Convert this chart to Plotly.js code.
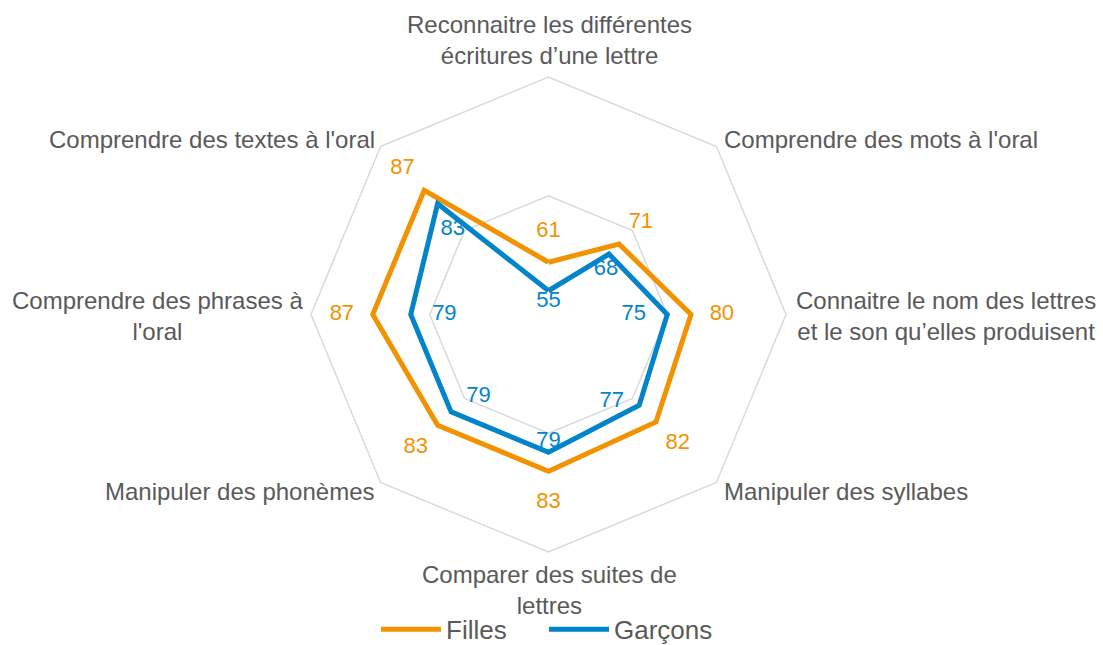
<!DOCTYPE html>
<html>
<head>
<meta charset="utf-8">
<script src="https://cdn.plot.ly/plotly-3.0.1.min.js"></script>
<style>
  html, body { margin: 0; padding: 0; background: #fff; }
  #chart { width: 1103px; height: 645px; }
</style>
</head>
<body>
<div id="chart"></div>
<script>
// categories, clockwise from the top
const categories = [
  'Reconnaitre les différentes écritures d’une lettre',
  'Comprendre des mots à l\'oral',
  'Connaitre le nom des lettres et le son qu’elles produisent',
  'Manipuler des syllabes',
  'Comparer des suites de lettres',
  'Manipuler des phonèmes',
  'Comprendre des phrases à l\'oral',
  'Comprendre des textes à l\'oral'
];
// same labels, broken the way the picture shows them
const tickLabels = [
  'Reconnaitre les différentes<br>écritures d’une lettre',
  'Comprendre des mots à l\'oral',
  'Connaitre le nom des lettres<br>et le son qu’elles produisent',
  'Manipuler des syllabes',
  'Comparer des suites de<br>lettres',
  'Manipuler des phonèmes',
  'Comprendre des phrases à<br>l\'oral',
  'Comprendre des textes à l\'oral'
];
const filles = [61, 71, 80, 82, 83, 83, 87, 87];
const garcons = [55, 68, 75, 77, 79, 79, 79, 83];

const ORANGE = '#F39200';
const BLUE = '#0284CA';
const GREY_TXT = '#595959';
const W = 1103, H = 645;

// close the loop
const loop = arr => arr.concat(arr[0]);

const traces = [
  {
    type: 'scatterpolar', mode: 'lines', name: 'Filles',
    r: loop(filles), theta: loop(categories),
    line: { color: ORANGE, width: 5 }
  },
  {
    type: 'scatterpolar', mode: 'lines', name: 'Garçons',
    r: loop(garcons), theta: loop(categories),
    line: { color: BLUE, width: 5 }
  },
  // data labels: orange outside the line, blue inside
  {
    type: 'scatterpolar', mode: 'text', showlegend: false, hoverinfo: 'skip',
    r: filles.map(v => v + 6.5), theta: categories,
    text: filles.map(String), textposition: 'middle center',
    textfont: { color: ORANGE, size: 22 }
  },
  {
    type: 'scatterpolar', mode: 'text', showlegend: false, hoverinfo: 'skip',
    r: garcons.map(v => v - 4.5), theta: categories,
    text: garcons.map(String),
    textposition: ['top center', 'middle right', 'middle left', 'bottom left',
                   'bottom center', 'middle right', 'middle right', 'bottom center'],
    textfont: { color: BLUE, size: 22 }
  }
];

// category label placement (px in the page)
const labelPos = [
  { x: 549, y: 40, xa: 'center' },
  { x: 722, y: 139, xa: 'left' },
  { x: 946, y: 316, xa: 'center' },
  { x: 722, y: 491, xa: 'left' },
  { x: 549, y: 590, xa: 'center' },
  { x: 377, y: 491, xa: 'right' },
  { x: 157, y: 316, xa: 'center' },
  { x: 377, y: 139, xa: 'right' }
];

const annotations = tickLabels.map((t, i) => ({
  xref: 'paper', yref: 'paper',
  x: labelPos[i].x / W, y: 1 - labelPos[i].y / H,
  xanchor: labelPos[i].xa, yanchor: 'middle', align: 'center',
  text: t, showarrow: false,
  font: { size: 24, color: GREY_TXT }
}));

const layout = {
  width: W, height: H,
  margin: { l: 0, r: 0, t: 0, b: 0, autoexpand: false },
  paper_bgcolor: '#fff',
  font: { family: 'Liberation Sans, Arial, sans-serif', color: GREY_TXT },
  showlegend: true,
  legend: {
    orientation: 'h', x: 376 / W, xanchor: 'left', y: -0.012, yanchor: 'bottom',
    font: { size: 26, color: GREY_TXT }, itemwidth: 60,
    entrywidth: 93, entrywidthmode: 'pixels'
  },
  polar: {
    domain: { x: [311 / W, 786 / W], y: [1 - 552 / H, 1 - 77 / H] },
    bgcolor: '#fff',
    gridshape: 'linear',
    radialaxis: {
      range: [50, 100], tickvals: [50, 75, 100],
      showticklabels: false, ticks: '', showline: false,
      gridcolor: '#D9D9D9', gridwidth: 1.5
    },
    angularaxis: {
      direction: 'clockwise', rotation: 90,
      showgrid: false, showticklabels: false, ticks: '',
      showline: true, linecolor: '#D9D9D9', linewidth: 1.5
    }
  },
  annotations: annotations
};

Plotly.newPlot('chart', traces, layout, { displayModeBar: false, staticPlot: true });
</script>
</body>
</html>
